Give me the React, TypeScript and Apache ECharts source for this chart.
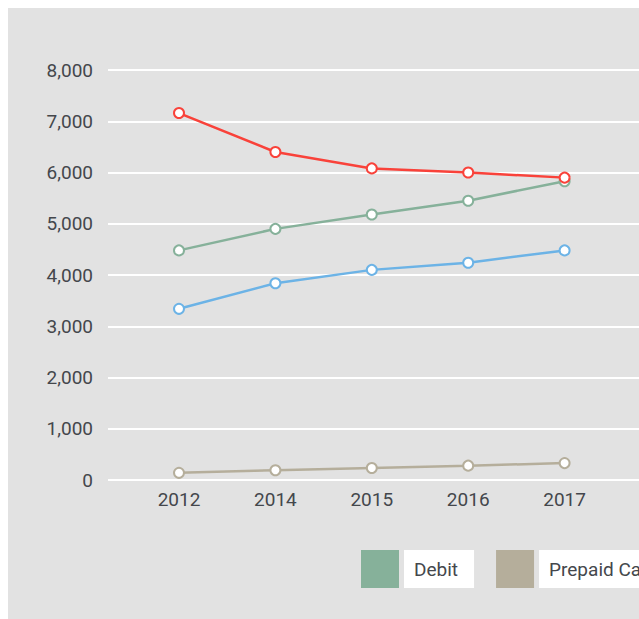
import React, { useEffect, useRef } from "react";
import * as echarts from "echarts";

const years = ["2012", "2014", "2015", "2016", "2017"];
const redValues = [7160, 6400, 6080, 6000, 5900];
const debitValues = [4480, 4900, 5180, 5450, 5830];
const blueValues = [3340, 3840, 4100, 4240, 4480];
const prepaidValues = [140, 190, 235, 280, 330];
const legendNames = ["Debit", "Prepaid Card"];

const TEXT = "#44474c";
const FONT = "Roboto";

export default function App() {
  const ref = useRef<HTMLDivElement>(null);
  useEffect(() => {
    if (!ref.current) return;
    const chart = echarts.init(ref.current, null, { renderer: "svg" });
    const mk = (name: string, color: string, data: number[], z: number) => ({
      name,
      type: "line",
      xAxisIndex: 1,
      yAxisIndex: 1,
      data,
      z,
      symbol: "emptyCircle",
      symbolSize: 10,
      lineStyle: { color, width: 2.5 },
      itemStyle: { color, borderColor: color, borderWidth: 2 },
    });
    chart.setOption({
      animation: false,
      backgroundColor: "#e2e2e2",
      textStyle: { fontFamily: FONT },
      grid: [
        { left: 100, right: 0, top: 62, height: 410 },
        { left: 122.8, width: 482, top: 62, height: 410 },
      ],
      xAxis: [
        { type: "value", gridIndex: 0, show: false, min: 0, max: 1, splitLine: { show: false } },
        {
          type: "category",
          gridIndex: 1,
          data: years,
          boundaryGap: true,
          axisLine: { show: false },
          axisTick: { show: false },
          axisLabel: { color: TEXT, fontSize: 19, fontFamily: FONT, margin: 10 },
        },
      ],
      yAxis: [
        {
          type: "value",
          gridIndex: 0,
          min: 0,
          max: 8000,
          interval: 1000,
          axisLine: { show: false },
          axisTick: { show: false },
          axisLabel: {
            color: TEXT,
            fontSize: 19,
            fontFamily: FONT,
            margin: 15,
            formatter: (v: number) => v.toLocaleString("en-US"),
          },
          splitLine: { show: true, lineStyle: { color: "#ffffff", width: 2 } },
        },
        { type: "value", gridIndex: 1, min: 0, max: 8000, interval: 1000, show: false, splitLine: { show: false } },
      ],
      legend: {
        data: legendNames,
        left: 353,
        top: 542,
        padding: 0,
        orient: "horizontal",
        icon: "rect",
        itemWidth: 38,
        itemHeight: 38,
        itemGap: 22,
        itemStyle: { borderWidth: 0 },
        textStyle: {
          color: TEXT,
          fontSize: 19,
          fontFamily: FONT,
          backgroundColor: "#ffffff",
          padding: [10, 16, 10, 10],
          lineHeight: 18,
        },
      },
      series: [
        mk("Prepaid Card", "#b5ae9b", prepaidValues, 2),
        mk("Credit", "#6cb3e6", blueValues, 3),
        mk("Debit", "#86b19a", debitValues, 4),
        mk("Cash", "#f9423a", redValues, 5),
      ],
    });
    return () => chart.dispose();
  }, []);
  return (
    <div style={{ position: "fixed", left: 8, top: 8, width: 631, height: 611, overflow: "hidden" }}>
      <div ref={ref} style={{ width: 800, height: 611 }} />
    </div>
  );
}
